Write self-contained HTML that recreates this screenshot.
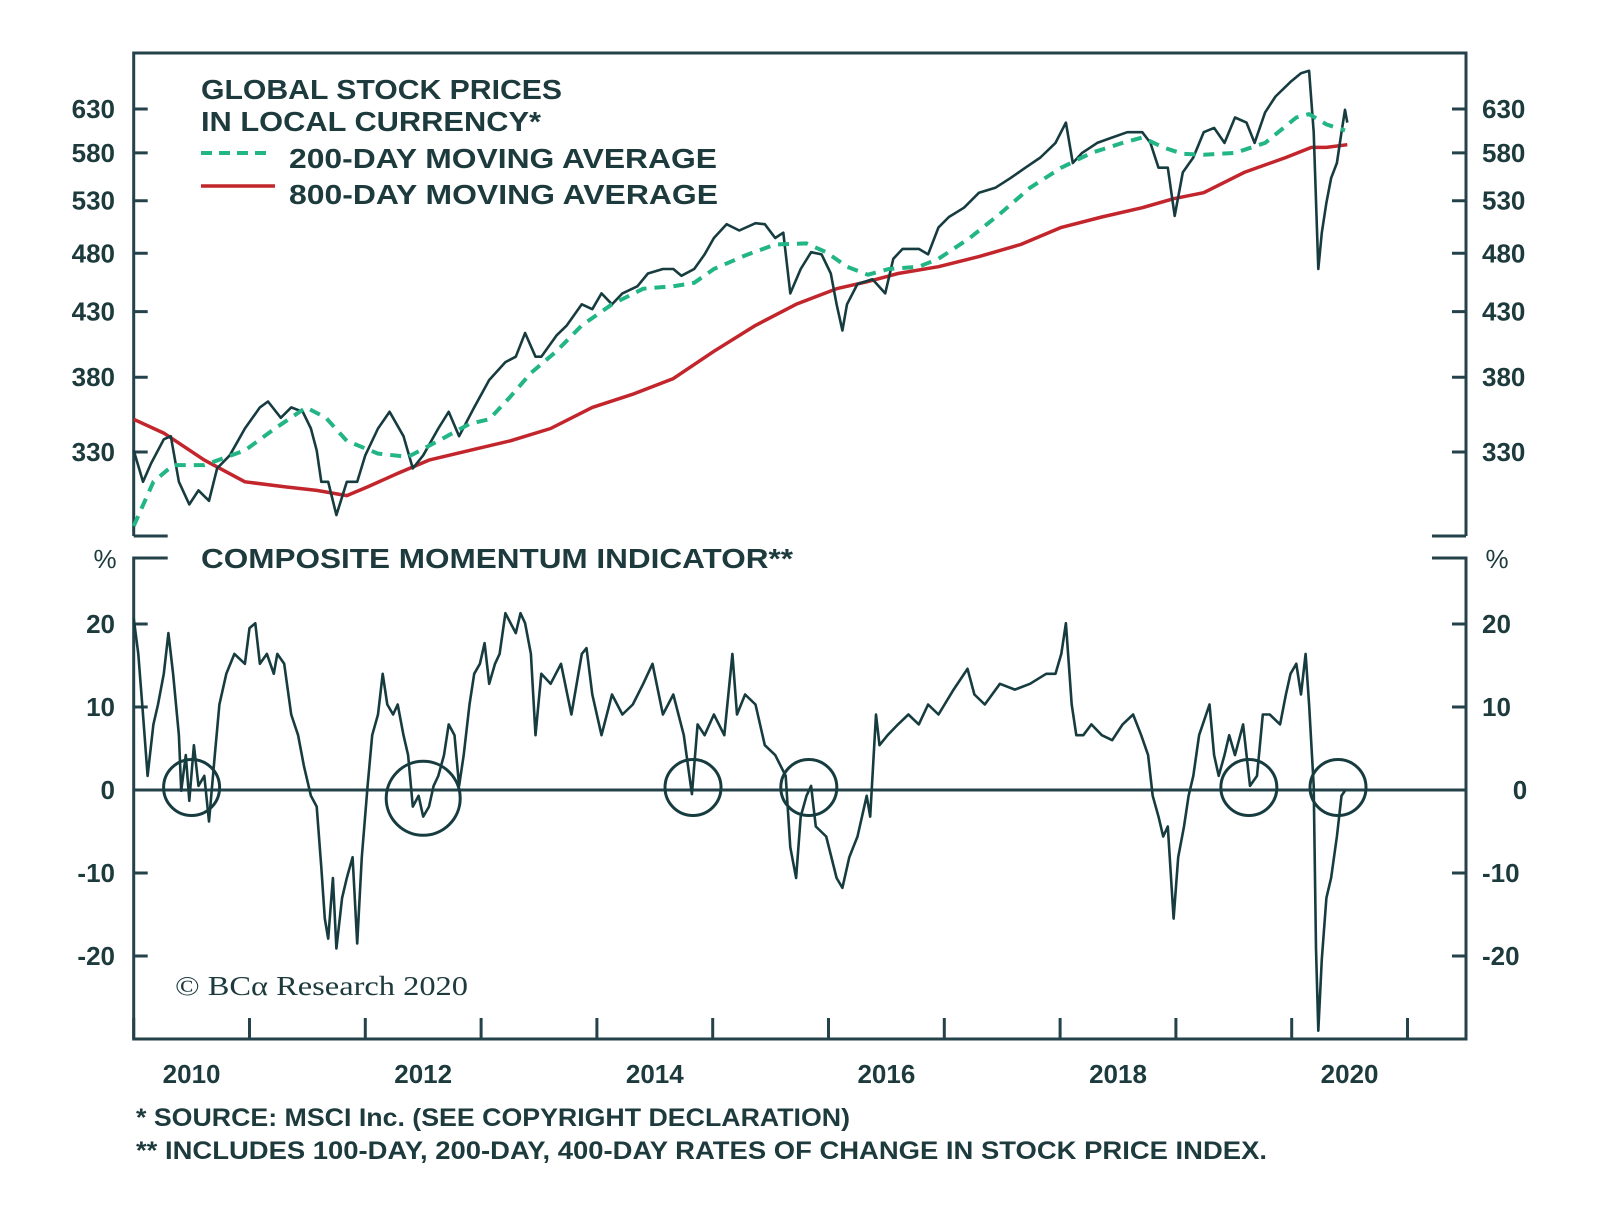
<!DOCTYPE html>
<html><head><meta charset="utf-8"><style>
html,body{margin:0;padding:0;background:#fff;}
svg{display:block;}
text{font-family:"Liberation Sans",sans-serif;fill:#1d3a3d;}
</style></head>
<body>
<svg id="chart" width="1600" height="1218" viewBox="0 0 1600 1218" xmlns="http://www.w3.org/2000/svg">
<g id="frame"></g>
<g id="marks"></g>
<g id="labels">
<text x="201" y="99" font-size="28" font-weight="bold" textLength="361" lengthAdjust="spacingAndGlyphs">GLOBAL STOCK PRICES</text>
<text x="201" y="131" font-size="28" font-weight="bold" textLength="340" lengthAdjust="spacingAndGlyphs">IN LOCAL CURRENCY*</text>
<line x1="201" y1="153" x2="272" y2="153" stroke="#22b585" stroke-width="4" stroke-dasharray="11 7"/>
<text x="289" y="168" font-size="28" font-weight="bold" textLength="428" lengthAdjust="spacingAndGlyphs">200-DAY MOVING AVERAGE</text>
<line x1="201" y1="186" x2="275" y2="186" stroke="#c2262c" stroke-width="3.5"/>
<text x="289" y="204" font-size="28" font-weight="bold" textLength="429" lengthAdjust="spacingAndGlyphs">800-DAY MOVING AVERAGE</text>
<text x="201" y="568" font-size="28" font-weight="bold" textLength="592" lengthAdjust="spacingAndGlyphs">COMPOSITE MOMENTUM INDICATOR**</text>
<text x="105" y="568" font-size="26" text-anchor="middle">%</text>
<text x="1497" y="568" font-size="26" text-anchor="middle">%</text>
<text x="175" y="995" font-size="27" textLength="293" lengthAdjust="spacingAndGlyphs" style="font-family:'Liberation Serif',serif">© BCα Research 2020</text>
<text x="136" y="1126" font-size="25" font-weight="bold" textLength="714" lengthAdjust="spacingAndGlyphs">*  SOURCE: MSCI Inc. (SEE COPYRIGHT DECLARATION)</text>
<text x="136" y="1159" font-size="25" font-weight="bold" textLength="1131" lengthAdjust="spacingAndGlyphs">** INCLUDES 100-DAY, 200-DAY, 400-DAY RATES OF CHANGE IN STOCK PRICE INDEX.</text>
</g>
</svg>
<script>
const priceT=[2010.00,2010.08,2010.15,2010.26,2010.32,2010.39,2010.48,2010.56,2010.65,2010.72,2010.83,2010.96,2011.09,2011.16,2011.27,2011.36,2011.46,2011.53,2011.58,2011.62,2011.68,2011.75,2011.84,2011.93,2012.00,2012.11,2012.21,2012.33,2012.41,2012.50,2012.63,2012.72,2012.81,2012.94,2013.07,2013.21,2013.30,2013.38,2013.47,2013.52,2013.65,2013.74,2013.87,2013.96,2014.04,2014.13,2014.22,2014.35,2014.44,2014.57,2014.66,2014.73,2014.84,2014.93,2015.01,2015.12,2015.23,2015.37,2015.45,2015.54,2015.61,2015.67,2015.76,2015.85,2015.94,2016.02,2016.07,2016.12,2016.16,2016.25,2016.38,2016.49,2016.56,2016.64,2016.78,2016.86,2016.95,2017.04,2017.17,2017.30,2017.44,2017.57,2017.70,2017.83,2017.96,2018.05,2018.11,2018.19,2018.32,2018.45,2018.58,2018.71,2018.78,2018.85,2018.93,2018.99,2019.06,2019.15,2019.24,2019.33,2019.42,2019.51,2019.61,2019.68,2019.77,2019.86,2019.99,2020.08,2020.15,2020.19,2020.23,2020.26,2020.30,2020.34,2020.39,2020.43,2020.46,2020.48];
const priceV=[331,312,323,338,340,312,299,307,301,320,328,345,359,363,352,359,356,345,331,312,312,293,312,312,328,345,356,340,320,328,345,356,340,359,378,391,395,413,395,395,411,419,436,432,445,436,445,451,462,466,466,460,466,479,494,507,501,508,507,494,499,445,466,481,479,462,436,415,436,453,457,445,475,484,484,479,504,514,523,538,543,553,564,575,591,614,569,580,591,597,603,603,591,564,564,515,559,575,603,608,591,620,614,591,626,645,663,674,677,603,466,499,528,553,569,603,629,614];
const ma200T=[2010.00,2010.17,2010.34,2010.61,2010.96,2011.22,2011.49,2011.66,2011.84,2012.11,2012.37,2012.63,2012.90,2013.07,2013.25,2013.43,2013.65,2013.87,2014.13,2014.40,2014.66,2014.84,2015.01,2015.28,2015.54,2015.81,2015.98,2016.16,2016.34,2016.52,2016.78,2016.95,2017.22,2017.48,2017.74,2018.01,2018.27,2018.54,2018.71,2018.89,2019.06,2019.24,2019.51,2019.77,2020.04,2020.15,2020.30,2020.46];
const ma200V=[287,312,322,322,331,345,359,352,337,329,327,337,348,351,366,383,399,419,436,449,451,454,466,478,488,489,481,468,461,466,468,475,494,517,543,564,580,591,597,586,579,578,580,591,620,624,612,605];
const ma800T=[2010.00,2010.26,2010.61,2010.96,2011.31,2011.58,2011.84,2012.02,2012.28,2012.55,2012.90,2013.25,2013.60,2013.96,2014.31,2014.66,2015.01,2015.37,2015.72,2016.07,2016.34,2016.60,2016.95,2017.30,2017.66,2018.01,2018.36,2018.71,2018.98,2019.24,2019.59,2019.95,2020.17,2020.30,2020.48];
const ma800V=[351,342,325,312,309,307,304,309,317,325,331,337,345,359,368,379,399,419,436,449,455,462,468,477,488,504,514,523,532,538,559,575,586,586,589];
const momT=[2010.00,2010.04,2010.08,2010.12,2010.17,2010.21,2010.26,2010.30,2010.34,2010.39,2010.41,2010.45,2010.48,2010.52,2010.56,2010.61,2010.65,2010.70,2010.74,2010.80,2010.87,2010.96,2011.00,2011.05,2011.09,2011.15,2011.21,2011.24,2011.30,2011.36,2011.42,2011.47,2011.53,2011.58,2011.62,2011.65,2011.68,2011.72,2011.75,2011.80,2011.84,2011.89,2011.93,2011.97,2012.02,2012.06,2012.11,2012.15,2012.19,2012.24,2012.28,2012.33,2012.37,2012.41,2012.46,2012.50,2012.55,2012.59,2012.63,2012.68,2012.72,2012.77,2012.81,2012.85,2012.90,2012.94,2012.99,2013.03,2013.07,2013.12,2013.16,2013.21,2013.30,2013.34,2013.38,2013.43,2013.47,2013.52,2013.60,2013.69,2013.78,2013.87,2013.91,2013.96,2014.04,2014.13,2014.22,2014.31,2014.40,2014.48,2014.57,2014.66,2014.75,2014.82,2014.87,2014.93,2015.01,2015.10,2015.17,2015.21,2015.28,2015.37,2015.45,2015.54,2015.63,2015.67,2015.72,2015.76,2015.81,2015.85,2015.89,2015.98,2016.07,2016.12,2016.18,2016.25,2016.33,2016.36,2016.41,2016.44,2016.51,2016.60,2016.69,2016.78,2016.86,2016.95,2017.08,2017.20,2017.26,2017.35,2017.48,2017.61,2017.74,2017.88,2017.96,2018.01,2018.05,2018.10,2018.14,2018.20,2018.27,2018.36,2018.45,2018.54,2018.63,2018.70,2018.76,2018.80,2018.85,2018.89,2018.93,2018.98,2019.02,2019.07,2019.11,2019.15,2019.20,2019.29,2019.33,2019.37,2019.42,2019.46,2019.51,2019.58,2019.64,2019.70,2019.75,2019.81,2019.90,2019.95,2019.99,2020.04,2020.08,2020.12,2020.15,2020.19,2020.21,2020.23,2020.26,2020.30,2020.34,2020.39,2020.43,2020.46];
const momV=[20.7,16.4,9.1,1.7,7.9,10.3,14.0,18.9,14.0,6.6,-0.1,4.2,-1.3,5.4,0.5,1.7,-3.8,4.2,10.3,14.0,16.4,15.2,19.5,20.1,15.2,16.4,14.0,16.4,15.2,9.1,6.6,2.9,-0.7,-2.0,-9.3,-15.5,-17.9,-10.6,-19.1,-13.0,-10.6,-8.1,-18.5,-8.1,0.5,6.6,9.1,14.0,10.3,9.1,10.3,6.6,4.2,-2.0,-0.7,-3.2,-2.0,0.5,1.7,4.2,7.9,6.6,0.5,4.2,10.3,14.0,15.2,17.7,12.8,15.2,16.4,21.3,18.9,21.3,20.1,16.4,6.6,14.0,12.8,15.2,9.1,16.4,17.1,11.5,6.6,11.5,9.1,10.3,12.8,15.2,9.1,11.5,6.6,-0.5,7.9,6.6,9.1,6.6,16.4,9.1,11.5,10.3,5.4,4.2,1.7,-6.9,-10.6,-3.2,-0.7,0.5,-4.4,-5.6,-10.6,-11.8,-8.1,-5.6,-0.7,-3.2,9.1,5.4,6.6,7.9,9.1,7.9,10.3,9.1,12.1,14.6,11.5,10.3,12.8,12.1,12.8,14.0,14.0,16.4,20.1,10.3,6.6,6.6,7.9,6.6,6.0,7.9,9.1,6.6,4.2,-0.7,-3.2,-5.6,-4.4,-15.5,-8.1,-4.4,-0.7,1.7,6.6,10.3,4.2,1.7,4.2,6.6,4.2,7.9,0.5,1.7,9.1,9.1,7.9,11.5,14.0,15.2,11.5,16.4,10.3,0.5,-19.1,-29.0,-20.4,-13.0,-10.6,-5.6,-0.7,-0.1];
const circleT=[2010.50,2012.50,2014.83,2015.83,2019.63,2020.40];
const circleV=[0.3,-1.0,0.3,0.3,0.3,0.3];
const priceTicks=[630,580,530,480,430,380,330];
const momTicks=[20,10,0,-10,-20];
const yearTicks=[2010,2011,2012,2013,2014,2015,2016,2017,2018,2019,2020,2021];
const yearLabels=[2010,2012,2014,2016,2018,2020];

const NS="http://www.w3.org/2000/svg";
const L=133.7,R=1466,TOP=53,TB=536,BT=558,BB=1039;
const xS=t=>L+(t-2010)*115.8;
const yP=v=>109+(Math.log(630)-Math.log(v))*530.5;
const yM=v=>790-v*8.3;
const frame=document.getElementById('frame');
const marks=document.getElementById('marks');
const labels=document.getElementById('labels');
function mk(tag,attrs,parent){const e=document.createElementNS(NS,tag);for(const k in attrs)e.setAttribute(k,attrs[k]);parent.appendChild(e);return e;}
const AX="#24424a";

let e;
e=mk('path',{d:`M${L},${TB} L${L},${TOP} L${R},${TOP} L${R},${TB}`,fill:'none',stroke:AX,'stroke-width':3},frame);


e=mk('path',{d:`M${L},${TB} L${L+34},${TB} M${R},${TB} L${R-34},${TB}`,fill:'none',stroke:AX,'stroke-width':3},frame);


e=mk('path',{d:`M${L+34},${BT} L${L},${BT} L${L},${BB} L${R},${BB} L${R},${BT} L${R-34},${BT}`,fill:'none',stroke:AX,'stroke-width':3},frame);


e=mk('line',{x1:L,x2:R,y1:yM(0),y2:yM(0),stroke:AX,'stroke-width':3},frame);



priceTicks.forEach(v=>{
  const y=yP(v);
  e=mk('path',{d:`M${L},${y} L${L+14},${y} M${R},${y} L${R-14},${y}`,stroke:AX,'stroke-width':3},frame);
  
  
  e=mk('text',{x:115,y:y+9,'font-size':26,'font-weight':'bold','text-anchor':'end'},labels);e.textContent=v;
  
  
  e=mk('text',{x:1482,y:y+9,'font-size':26,'font-weight':'bold'},labels);e.textContent=v;
  
  
});
momTicks.forEach(v=>{
  const y=yM(v);
  if(v!==0){
    e=mk('path',{d:`M${L},${y} L${L+14},${y} M${R},${y} L${R-14},${y}`,stroke:AX,'stroke-width':3},frame);
    
    
  }
  e=mk('text',{x:115,y:y+9,'font-size':26,'font-weight':'bold','text-anchor':'end'},labels);e.textContent=v;
  
  
  e=mk('text',{x:v===0?1520:1482,y:y+9,'font-size':26,'font-weight':'bold','text-anchor':v===0?'middle':'start'},labels);e.textContent=v;
  
  
});
yearTicks.forEach(t=>{
  const x=xS(t);
  e=mk('line',{x1:x,x2:x,y1:BB,y2:BB-21,stroke:AX,'stroke-width':3},frame);
  
  
});
yearLabels.forEach(t=>{
  e=mk('text',{x:xS(t+0.5),y:1083,'font-size':26,'font-weight':'bold','text-anchor':'middle'},labels);e.textContent=t;
  
  
});

function pathOf(T,V,yf){return T.map((t,i)=>(i?'L':'M')+xS(t).toFixed(1)+','+yf(V[i]).toFixed(1)).join(' ');}
e=mk('path',{d:pathOf(ma800T,ma800V,yP),fill:'none',stroke:'#c2262c','stroke-width':3.5,'stroke-linejoin':'round'},marks);


e=mk('path',{d:pathOf(priceT,priceV,yP),fill:'none',stroke:'#173c40','stroke-width':2.6,'stroke-linejoin':'round'},marks);


e=mk('path',{d:pathOf(ma200T,ma200V,yP),fill:'none',stroke:'#22b585','stroke-width':4,'stroke-dasharray':'11 8','stroke-linejoin':'round'},marks);


e=mk('path',{d:pathOf(momT,momV,yM),fill:'none',stroke:'#173c40','stroke-width':2.6,'stroke-linejoin':'round'},marks);


circleT.forEach((t,i)=>{
  e=mk('circle',{cx:xS(t),cy:yM(circleV[i]),r:i===1?37:28,fill:'none',stroke:'#173c40','stroke-width':3},marks);
  
  
});
</script>
</body></html>
